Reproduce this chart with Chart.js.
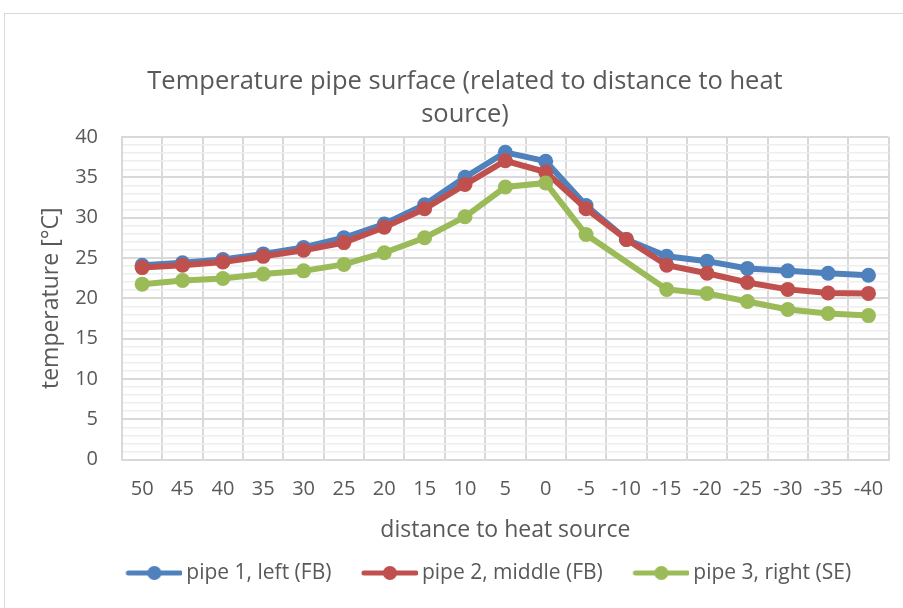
<!DOCTYPE html>
<html>
<head>
<meta charset="utf-8">
<script src="https://cdn.jsdelivr.net/npm/chart.js@4.4.1/dist/chart.umd.min.js"></script>
<style>
  html, body { margin: 0; padding: 0; background: #ffffff; overflow: hidden; }
  #frame { position: absolute; left: 4px; top: 13px; width: 1000px; height: 1000px; border: 1px solid #d9d9d9; box-sizing: border-box; }
  #wrap { position: absolute; left: 0; top: 0; width: 903px; height: 608px; }
</style>
</head>
<body>
<div id="frame"></div>
<div id="wrap"><canvas id="c" width="903" height="608"></canvas></div>
<script>
const categories = ['50','45','40','35','30','25','20','15','10','5','0','-5','-10','-15','-20','-25','-30','-35','-40'];
const pipe1 = [24.1, 24.4, 24.8, 25.5, 26.3, 27.5, 29.2, 31.6, 35.0, 38.1, 37.0, 31.5, 27.3, 25.2, 24.6, 23.7, 23.4, 23.1, 22.85];
const pipe2 = [23.8, 24.1, 24.5, 25.2, 25.95, 26.9, 28.8, 31.1, 34.1, 37.05, 35.65, 31.1, 27.3, 24.1, 23.1, 21.95, 21.1, 20.65, 20.6];
const pipe3 = [21.75, 22.2, 22.45, 23.0, 23.4, 24.2, 25.65, 27.5, 30.1, 33.8, 34.3, 27.9, null, 21.1, 20.6, 19.6, 18.6, 18.1, 17.85];
const seriesNames = ['pipe 1, left (FB)', 'pipe 2, middle (FB)', 'pipe 3, right (SE)'];
const seriesColors = ['#4F81BD', '#C0504D', '#9BBB59'];
const titleLines = ['Temperature pipe surface (related to distance to heat', 'source)'];

const FONT = "'Open Sans', 'Noto Sans', sans-serif";
const TXT = '#595959';

function legendSample(color) {
  const c = document.createElement('canvas');
  c.width = 83; c.height = 18;
  const g = c.getContext('2d');
  g.strokeStyle = color; g.lineWidth = 5; g.lineCap = 'round';
  g.beginPath(); g.moveTo(29, 9); g.lineTo(81, 9); g.stroke();
  g.fillStyle = color;
  g.beginPath(); g.arc(55, 9, 7, 0, Math.PI * 2); g.fill();
  return c;
}
const samples = seriesColors.map(legendSample);

const datasets = [pipe1, pipe2, pipe3].map((d, i) => ({
  label: seriesNames[i],
  data: d,
  borderColor: seriesColors[i],
  backgroundColor: seriesColors[i],
  pointBackgroundColor: seriesColors[i],
  pointBorderColor: seriesColors[i],
  borderWidth: 6,
  pointRadius: 7.5,
  pointBorderWidth: 0,
  pointHoverRadius: 7.5,
  tension: 0,
  spanGaps: true,
  order: 3 - i
}));

const shiftBoxes = {
  id: 'shiftBoxes',
  afterLayout(chart) {
    if (chart.legend) { chart.legend.left += 34; chart.legend.right += 34; }
    if (chart.titleBlock) { chart.titleBlock.left += 20.5; chart.titleBlock.right += 20.5; }
  }
};

new Chart(document.getElementById('c'), {
  type: 'line',
  data: { labels: categories, datasets: datasets },
  plugins: [shiftBoxes],
  options: {
    responsive: false,
    animation: false,
    events: [],
    layout: { padding: { left: 0, right: 14, top: 0, bottom: 14.5 } },
    plugins: {
      title: {
        display: true,
        text: titleLines,
        color: TXT,
        font: { family: FONT, size: 25.5, weight: 'normal', lineHeight: '33px' },
        padding: { top: 65.5, bottom: 5.5 }
      },
      legend: {
        display: true,
        position: 'bottom',
        labels: {
          usePointStyle: true,
          pointStyleWidth: 70,
          padding: 10,
          color: TXT,
          font: { family: FONT, size: 21 },
          generateLabels: (chart) => chart.data.datasets.map((ds, i) => ({
            text: ds.label,
            fillStyle: seriesColors[i],
            strokeStyle: 'rgba(0,0,0,0)',
            lineWidth: 0,
            pointStyle: samples[i],
            fontColor: TXT,
            hidden: false,
            datasetIndex: i
          }))
        }
      },
      tooltip: { enabled: false }
    },
    scales: {
      x: {
        type: 'category',
        offset: true,
        grid: { offset: true, color: '#d9d9d9', lineWidth: 2, drawTicks: false },
        border: { color: '#d9d9d9', width: 2 },
        ticks: { color: TXT, padding: 19.5, font: { family: FONT, size: 20, lineHeight: 1 }, maxRotation: 0, autoSkip: false },
        title: {
          display: true, text: 'distance to heat source', color: TXT,
          font: { family: FONT, size: 23, lineHeight: 1 }, padding: { top: 0, bottom: 11 }
        }
      },
      y: {
        min: 0, max: 40,
        afterFit: (s) => { s.width = 122; },
        grid: {
          drawTicks: false,
          color: (ctx) => (ctx.tick && ctx.tick.value % 5 === 0) ? '#d9d9d9' : '#eeeeee',
          lineWidth: (ctx) => (ctx.tick && ctx.tick.value % 5 === 0) ? 2 : 1.5
        },
        border: { color: '#d9d9d9', width: 2 },
        ticks: {
          stepSize: 1, autoSkip: false, color: TXT, padding: 24,
          font: { family: FONT, size: 20 },
          callback: (v) => (v % 5 === 0 ? String(v) : '')
        },
        title: {
          display: true, text: 'temperature [°C]', color: TXT,
          font: { family: FONT, size: 23 }, padding: { top: 38, bottom: 0 }
        }
      }
    }
  }
});
</script>
</body>
</html>
